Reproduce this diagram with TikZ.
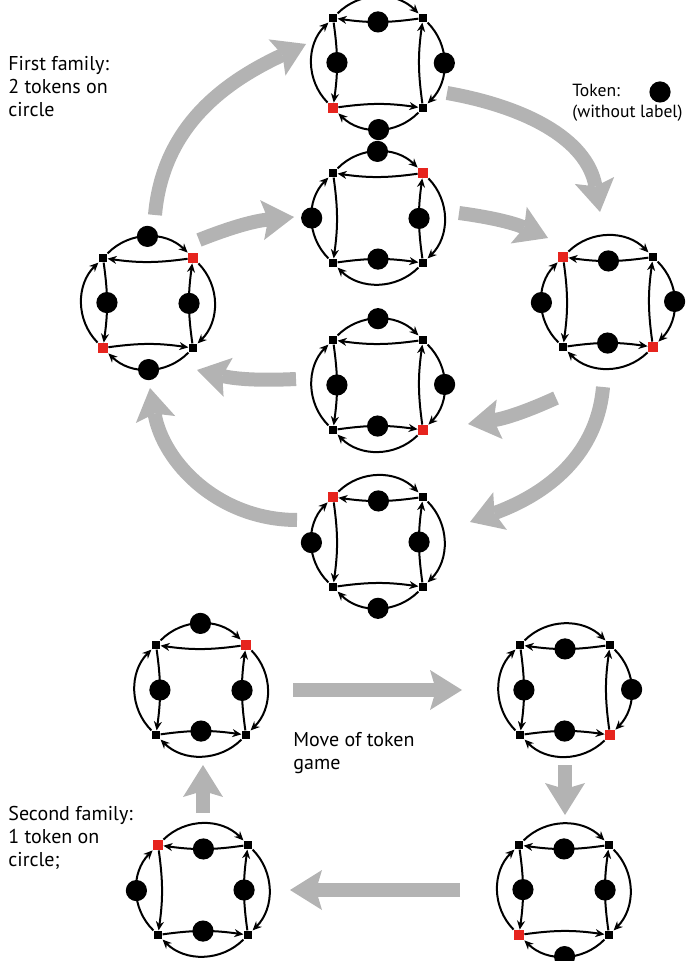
\documentclass[tikz,border=0pt]{standalone}
\usepackage{fontspec}
\setmainfont{PT Sans}
\usetikzlibrary{arrows.meta}
\definecolor{tokred}{RGB}{230,36,30}
\definecolor{flowgray}{RGB}{179,179,179}

\tikzset{
  sq/.style={rectangle,fill=black,inner sep=0pt,minimum size=4.2pt},
  sqr/.style={sq,fill=tokred,minimum size=5pt},
  token/.style={circle,fill=black,inner sep=0pt,minimum size=10.6pt},
  o out/.style={token}, o in/.style={coordinate},
  i out/.style={coordinate}, i in/.style={token},
  link/.style={line width=1pt,-{Stealth[length=4.5pt,width=4pt]}},
  flow/.style={draw=flowgray,line width=7pt,-{Stealth[length=16pt,width=20pt,inset=3pt,line width=0pt]}},
  lbl/.style={anchor=north west,inner sep=0pt,align=left,font=\fontsize{10}{11.5}\selectfont}
}

% #1 centre, #2-#5 corners tl tr br bl, #6-#9 token side top right bottom left
\newcommand{\tokenring}[9]{%
  \node[#2] (#1-tl) at ([shift={(-45,45)}]#1) {};
  \node[#3] (#1-tr) at ([shift={(45,45)}]#1) {};
  \node[#4] (#1-br) at ([shift={(45,-45)}]#1) {};
  \node[#5] (#1-bl) at ([shift={(-45,-45)}]#1) {};
  \draw[link] (#1-tl) to[bend left=45] node[#6 out] (#1-to) {} (#1-tr);
  \draw[link] (#1-tr) to[bend left=45] node[#7 out] (#1-ro) {} (#1-br);
  \draw[link] (#1-br) to[bend left=45] node[#8 out] (#1-bo) {} (#1-bl);
  \draw[link] (#1-bl) to[bend left=45] node[#9 out] (#1-lo) {} (#1-tl);
  \draw[link] (#1-tr) to[bend left=8] node[#6 in] (#1-ti) {} (#1-tl);
  \draw[link] (#1-tl) to[bend left=8] node[#9 in] (#1-li) {} (#1-bl);
  \draw[link] (#1-bl) to[bend left=8] node[#8 in] (#1-bi) {} (#1-br);
  \draw[link] (#1-br) to[bend left=8] node[#7 in] (#1-ri) {} (#1-tr);
}

\begin{document}
\begin{tikzpicture}[x=0.5pt,y=0.5pt]
  \useasboundingbox (0,0) rectangle (688,-961);
  % first family
  \coordinate (A) at (378,-63);
  \coordinate (B) at (378,-218);
  \coordinate (L) at (148,-303);
  \coordinate (R) at (608,-302);
  \coordinate (C) at (378,-385);
  \coordinate (D) at (378,-542);
  % second family
  \coordinate (E) at (201,-690);
  \coordinate (F) at (565,-690);
  \coordinate (G) at (203,-890);
  \coordinate (H) at (564,-890);

  \draw[flow] ([shift={(7,88)}]L) to[out=85,in=205] ([shift={(-72,19)}]A);
  \draw[flow] ([shift={(69,-30)}]A) to[out=-10,in=100] ([shift={(-8,90)}]R);
  \draw[flow] ([shift={(-5,-85)}]R) to[out=-95,in=20] ([shift={(92,20)}]D);
  \draw[flow] ([shift={(-81,22)}]D) to[out=180,in=-80] ([shift={(2,-85)}]L);
  \draw[flow] ([shift={(51,63)}]L) to[bend left=8] ([shift={(-84,1)}]B);
  \draw[flow] ([shift={(81,5)}]B) to[bend left=8] ([shift={(-60,64)}]R);
  \draw[flow] ([shift={(-52,-96)}]R) to[bend left=8] ([shift={(90,-39)}]C);
  \draw[flow] ([shift={(-82,6)}]C) to[bend left=8] ([shift={(49,-67)}]L);
  \draw[flow] ([shift={(92,0)}]E) -- ([shift={(-103,0)}]F);
  \draw[flow] ([shift={(0,-75)}]F) -- ([shift={(1,75)}]H);
  \draw[flow] ([shift={(-104,0)}]H) -- ([shift={(87,0)}]G);
  \draw[flow] ([shift={(0,77)}]G) -- ([shift={(2,-75)}]E);

  \tokenring{A}{sq}{sq}{sq}{sqr}{i}{o}{o}{i}
  \tokenring{B}{sq}{sqr}{sq}{sq}{o}{i}{i}{o}
  \tokenring{L}{sq}{sqr}{sq}{sqr}{o}{i}{o}{i}
  \tokenring{R}{sqr}{sq}{sqr}{sq}{i}{o}{i}{o}
  \tokenring{C}{sq}{sq}{sqr}{sq}{o}{o}{i}{i}
  \tokenring{D}{sqr}{sq}{sq}{sq}{i}{i}{o}{o}
  \tokenring{E}{sq}{sqr}{sq}{sq}{o}{i}{i}{i}
  \tokenring{F}{sq}{sq}{sqr}{sq}{i}{o}{i}{i}
  \tokenring{G}{sqr}{sq}{sq}{sq}{i}{i}{i}{o}
  \tokenring{H}{sq}{sq}{sq}{sqr}{i}{i}{o}{i}

  \node[lbl] (fam1) at (8,-56) {First family:\\2 tokens on\\circle};
  \node[lbl,font=\fontsize{8.8}{10.5}\selectfont] (keytxt) at (572,-84) {Token:\\(without label)};
  \node[token] (keytok) at (660,-92) {};
  \node[lbl] (move) at (293,-732) {Move of token\\game};
  \node[lbl] (fam2) at (8,-806) {Second family:\\1 token on\\circle;};
\end{tikzpicture}
\end{document}
